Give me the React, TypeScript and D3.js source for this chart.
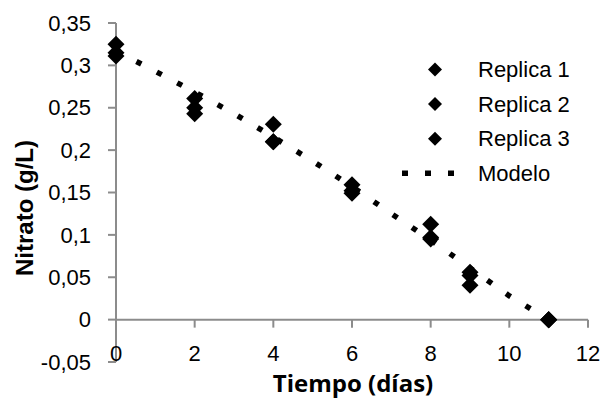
import React from "react";
import * as d3 from "d3";

const days = [0, 2, 4, 6, 8, 9, 11];
const replica1 = [0.325, 0.261, 0.2305, 0.159, 0.1126, 0.056, 0];
const replica2 = [0.315, 0.25, 0.21, 0.152, 0.097, 0.052, 0];
const replica3 = [0.311, 0.243, 0.21, 0.149, 0.095, 0.0405, 0];

const modelDays = [0, 1, 2, 3, 4, 5, 6, 7, 8, 9, 10, 11];
const modelValues = [0.317, 0.293, 0.2686, 0.243, 0.2155, 0.187, 0.157, 0.125, 0.094, 0.061, 0.028, 0];

const xTicks = [0, 2, 4, 6, 8, 10, 12];
const yTicks = [-0.05, 0, 0.05, 0.1, 0.15, 0.2, 0.25, 0.3, 0.35];
const seriesNames = ["Replica 1", "Replica 2", "Replica 3", "Modelo"];

const W = 605;
const H = 402;

const fmt = (v: number) => {
  const s = String(Math.round(v * 100) / 100);
  return s.replace(".", ",");
};

const diamond = (r: number) => `M0,${-r}L${r},0L0,${r}L${-r},0Z`;

export default function App() {
  const x = d3.scaleLinear().domain([0, 12]).range([116, 588]);
  const y = d3.scaleLinear().domain([-0.05, 0.35]).range([362, 23]);
  const axisColor = "#8c8c8c";
  const line = d3
    .line<number>()
    .x((_, i) => x(modelDays[i]))
    .y((d) => y(d));

  const series = [replica1, replica2, replica3];
  const tickFont = "'Liberation Sans', Arial, sans-serif";

  return (
    <svg
      width={W}
      height={H}
      style={{ position: "absolute", left: 0, top: 0, background: "#fff" }}
    >
      <rect width={W} height={H} fill="#fff" />
      {/* y axis */}
      <line x1={x(0)} x2={x(0)} y1={y(-0.05)} y2={y(0.35)} stroke={axisColor} strokeWidth={2} />
      {yTicks.map((t) => (
        <g key={"yt" + t}>
          <line x1={x(0) - 8} x2={x(0)} y1={y(t)} y2={y(t)} stroke={axisColor} strokeWidth={2} />
          <text
            x={91}
            y={y(t)}
            dy="0.35em"
            textAnchor="end"
            fontFamily={tickFont}
            fontSize={22}
            fill="#000"
          >
            {fmt(t)}
          </text>
        </g>
      ))}
      {/* x axis */}
      <line x1={x(0)} x2={x(12)} y1={y(0)} y2={y(0)} stroke={axisColor} strokeWidth={2} />
      {xTicks.map((t) => (
        <g key={"xt" + t}>
          <line x1={x(t)} x2={x(t)} y1={y(0)} y2={y(0) + 8} stroke={axisColor} strokeWidth={2} />
          <text
            x={x(t)}
            y={361}
            textAnchor="middle"
            fontFamily={tickFont}
            fontSize={22}
            fill="#000"
          >
            {t}
          </text>
        </g>
      ))}
      {/* model */}
      <path
        d={line(modelValues) || ""}
        fill="none"
        stroke="#000"
        strokeWidth={5.5}
        strokeDasharray="5.5 17.5"
      />
      {/* replicas */}
      {series.map((vals, si) =>
        vals.map((v, i) => (
          <path
            key={`s${si}-${i}`}
            d={diamond(8.5)}
            transform={`translate(${x(days[i])},${y(v)})`}
            fill="#000"
          />
        ))
      )}
      {/* axis titles */}
      <text
        transform={`translate(33,${208}) rotate(-90)`}
        textAnchor="middle"
        fontFamily={tickFont}
        fontWeight="bold"
        fontSize={24}
        fill="#000"
      >
        Nitrato (g/L)
      </text>
      <text
        x={353}
        y={392}
        textAnchor="middle"
        fontFamily="'Open Sans', sans-serif"
        fontWeight="bold"
        fontSize={24}
        fill="#000"
      >
        Tiempo (días)
      </text>
      {/* legend */}
      {seriesNames.map((name, i) => {
        const ly = 69.5 + i * 34.6;
        return (
          <g key={"lg" + i}>
            {i < 3 ? (
              <path d={diamond(7)} transform={`translate(435,${ly})`} fill="#000" />
            ) : (
              <line
                x1={402}
                x2={456}
                y1={ly}
                y2={ly}
                stroke="#000"
                strokeWidth={5.5}
                strokeDasharray="6 17"
              />
            )}
            <text
              x={478}
              y={ly}
              dy="0.35em"
              fontFamily={tickFont}
              fontSize={22}
              fill="#000"
            >
              {name}
            </text>
          </g>
        );
      })}
    </svg>
  );
}
